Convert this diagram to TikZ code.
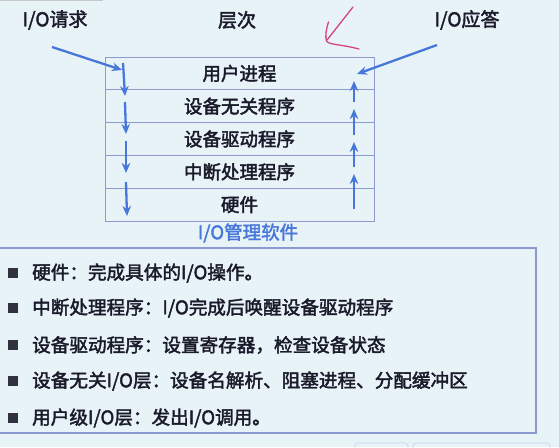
\documentclass[tikz,border=0pt]{standalone}
\usepackage{fontspec}
\setmainfont{Noto Sans CJK SC}[FakeBold=2.2]
\usetikzlibrary{arrows.meta}
\definecolor{bgc}{HTML}{E8F3F8}
\definecolor{ink}{HTML}{1A1A2A}
\definecolor{flow}{HTML}{4877DA}
\definecolor{frame}{HTML}{8C9AD0}
\definecolor{pen}{HTML}{D4457E}
\tikzset{
  layer/.style={draw=frame, line width=0.9pt, minimum width=269pt, minimum height=32.8pt,
    inner sep=0pt, text=ink, font=\fontsize{18.5}{20}\selectfont},
  label/.style={text=ink, inner sep=0pt, font=\fontsize{19}{21}\selectfont},
  item/.style={text=ink, inner sep=0pt, anchor=west, font=\fontsize{18.6}{21}\selectfont},
  bullet/.style={fill=ink!90, minimum size=10pt, inner sep=0pt},
  flowarrow/.style={draw=flow, line width=2.3pt, -{Stealth[length=10pt,width=8.5pt]}},
}
\begin{document}
\begin{tikzpicture}[x=1pt,y=-1pt]
  \useasboundingbox (0,0) rectangle (559,447);
  \fill[bgc] (0,0) rectangle (559,447);
  % faint edges of the screen frame
  \draw[gray!45, line width=0.8pt] (0,0.6) -- (103,0.6);
  \draw[frame!45, line width=0.7pt, rounded corners=3pt] (355,449) -- (355,443) -- (408,443) -- (408,449);
  \draw[frame!45, line width=0.7pt, rounded corners=3pt] (413,449) -- (413,443) -- (550,443) -- (550,449);

  % header labels
  \node[label] (req) at (55,20) {I/O请求};
  \node[label] (lvl) at (237,20) {层次};
  \node[label] (ack) at (467,20) {I/O应答};

  % layer stack
  \node[layer] (l1) at (239.5,73.4) {用户进程};
  \node[layer] (l2) at (239.5,106.2) {设备无关程序};
  \node[layer] (l3) at (239.5,139.0) {设备驱动程序};
  \node[layer] (l4) at (239.5,171.8) {中断处理程序};
  \node[layer] (l5) at (239.5,204.6) {硬件};
  \node[text=flow, inner sep=0pt, font=\fontsize{18.5}{20}\selectfont] (cap) at (248,233) {I/O管理软件};

  % request path, downward
  \coordinate (rs) at (52,47);
  \coordinate (d0) at (122,70);
  \coordinate (d1a) at (123,63);  \coordinate (d1b) at (125,96);
  \coordinate (d2a) at (125,102); \coordinate (d2b) at (126,134);
  \coordinate (d3a) at (126,141); \coordinate (d3b) at (126,173);
  \coordinate (d4a) at (126,182); \coordinate (d4b) at (127,216);
  \draw[flowarrow] (rs) -- (d0);
  \draw[flowarrow] (d1a) -- (d1b);
  \draw[flowarrow] (d2a) -- (d2b);
  \draw[flowarrow] (d3a) -- (d3b);
  \draw[flowarrow] (d4a) -- (d4b);

  % reply path, upward
  \coordinate (as) at (437,45);
  \coordinate (u0) at (357,74);
  \coordinate (u1a) at (354,102); \coordinate (u1b) at (354,81);
  \coordinate (u2a) at (354,135); \coordinate (u2b) at (354,109);
  \coordinate (u3a) at (354,167); \coordinate (u3b) at (354,142);
  \coordinate (u4a) at (354,209); \coordinate (u4b) at (354,174);
  \draw[flowarrow] (as) -- (u0);
  \draw[flowarrow] (u1a) -- (u1b);
  \draw[flowarrow] (u2a) -- (u2b);
  \draw[flowarrow] (u3a) -- (u3b);
  \draw[flowarrow] (u4a) -- (u4b);

  % hand-drawn pointer: shaft and hooked head
  \draw[pen, line width=1.3pt, line cap=round, line join=round]
    (353,7) -- (327,40);
  \draw[pen, line width=1.3pt, line cap=round, line join=round]
    (328.5,22) .. controls (326,30) and (325,37) .. (326.5,41)
    .. controls (329,45) and (340,44) .. (359,49);

  % notes box
  \draw[frame, line width=1.1pt] (-2,248) rectangle (536,433);
  \foreach \y/\t [count=\i] in {273/{硬件：完成具体的I/O操作。},
                     308/{中断处理程序：I/O完成后唤醒设备驱动程序},
                     345/{设备驱动程序：设置寄存器，检查设备状态},
                     381/{设备无关I/O层：设备名解析、阻塞进程、分配缓冲区},
                     418/{用户级I/O层：发出I/O调用。}}{
    \node[bullet] (b\i) at (13,\y) {};
    \node[item] (t\i) at (32,\y) {\t};
  }
\end{tikzpicture}
\end{document}
